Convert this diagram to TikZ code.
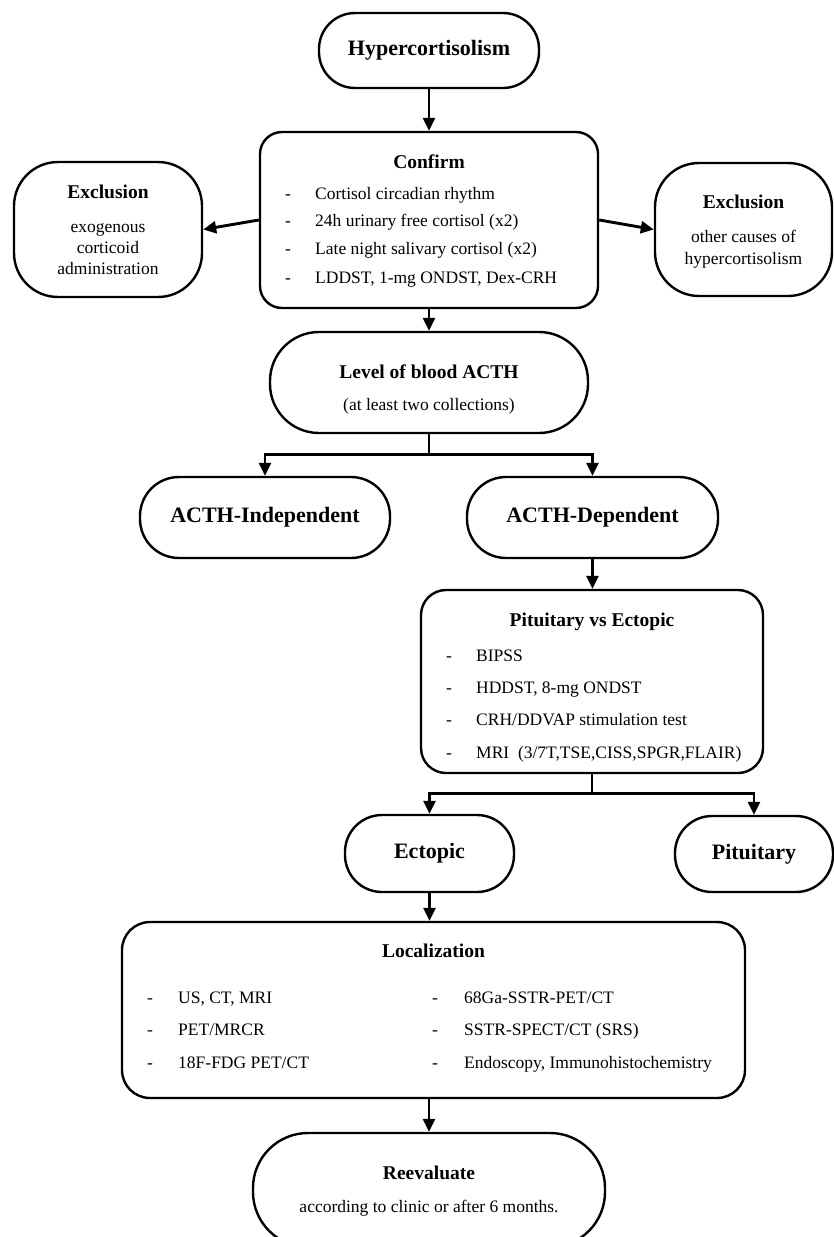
\documentclass[tikz,border=0pt]{standalone}
\usepackage{fontspec}
\setmainfont{Liberation Serif}
\usetikzlibrary{arrows.meta}
\newcommand\dsh[1]{\makebox[#1][l]{-}}
\begin{document}
\begin{tikzpicture}[x=1pt,y=-1pt,
  box/.style={draw,line width=2.4pt,rounded corners=#1,inner sep=0pt,align=center},
  box/.default=25pt,
  arr/.style={line width=2.9pt,-{Triangle[length=13pt,width=12pt]}},
  big/.style={font=\fontsize{22}{26}\selectfont\bfseries},
  ttl/.style={font=\fontsize{19.5}{23}\selectfont\bfseries,inner sep=0pt},
  txt/.style={font=\fontsize{17.5}{21}\selectfont,inner sep=0pt},
  itm/.style={font=\fontsize{17.5}{21}\selectfont,inner sep=0pt,anchor=west,execute at begin node=\strut}]
\useasboundingbox (0,0) rectangle (833,1237);
\fill[white] (0,0) rectangle (833,1237);

% boxes
\node[box=36pt,big,minimum width=220pt,minimum height=75pt] (hyp) at (429,50.5) {Hypercortisolism};
\node[box=22pt,minimum width=338pt,minimum height=176pt] (confirm) at (429,220) {};
\node[box=44pt,minimum width=188pt,minimum height=135pt] (exl) at (108,229.5) {};
\node[box=44pt,minimum width=177pt,minimum height=133pt] (exr) at (743.5,229.5) {};
\node[box=49pt,minimum width=318pt,minimum height=101pt] (level) at (429,382.5) {};
\node[box=39pt,big,minimum width=250pt,minimum height=81pt] (indep) at (265,517.5) {ACTH-Independent};
\node[box=39pt,big,minimum width=251pt,minimum height=81pt] (dep) at (592.5,517.5) {ACTH-Dependent};
\node[box=25pt,minimum width=342pt,minimum height=183pt] (pve) at (592,681.5) {};
\node[box=37pt,big,minimum width=169pt,minimum height=77pt] (ect) at (429.5,853.5) {Ectopic};
\node[box=37pt,big,minimum width=158pt,minimum height=76pt] (pit) at (754,854) {Pituitary};
\node[box=28pt,minimum width=623pt,minimum height=176pt] (loc) at (433.5,1010) {};
\node[box=55pt,minimum width=352pt,minimum height=114pt] (ree) at (429,1190) {};

% connectors
\draw[arr] (hyp.south) -- (hyp.south |- confirm.north);
\draw[arr] (confirm.west) -- (exl.east);
\draw[arr] (confirm.east) -- (exr.west);
\draw[arr] (confirm.south) -- (level.north);
\draw[arr] (level.south) -- ++(0,20) -| (indep.north);
\draw[arr] (level.south) -- ++(0,20) -| (dep.north);
\draw[arr] (dep.south) -- (dep.south |- pve.north);
\draw[arr] (pve.south) -- ++(0,19) -| (ect.north);
\draw[arr] (pve.south) -- ++(0,19) -| (pit.north);
\draw[arr] (ect.south) -- (ect.south |- loc.north);
\draw[arr] (loc.south -| ree.north) -- (ree.north);

% Confirm texts
\node[ttl] (cft) at (429,162) {Confirm};
\node[itm] (ci1) at (285,195) {\dsh{30pt}Cortisol circadian rhythm};
\node[itm] (ci2) at (285,222) {\dsh{30pt}24h urinary free cortisol (x2)};
\node[itm] (ci3) at (285,250) {\dsh{30pt}Late night salivary cortisol (x2)};
\node[itm] (ci4) at (285,279) {\dsh{30pt}LDDST, 1-mg ONDST, Dex-CRH};

% Exclusion texts
\node[ttl] (elt) at (108,192) {Exclusion};
\node[txt,align=center] (elx) at (108,249) {exogenous\\corticoid\\administration};
\node[ttl] (ert) at (743.5,202) {Exclusion};
\node[txt,align=center,font=\fontsize{17.5}{22}\selectfont] (erx) at (743.5,249) {other causes of\\hypercortisolism};

% Level texts
\node[ttl] (lvt) at (429,372) {Level of blood ACTH};
\node[txt] (lvx) at (429,406) {(at least two collections)};

% Pituitary vs Ectopic texts
\node[ttl] (pvt) at (592,622) {Pituitary vs Ectopic};
\node[itm] (pi1) at (446,657) {\dsh{30pt}BIPSS};
\node[itm] (pi2) at (446,689) {\dsh{30pt}HDDST, 8-mg ONDST};
\node[itm] (pi3) at (446,721) {\dsh{30pt}CRH/DDVAP stimulation test};
\node[itm] (pi4) at (446,754) {\dsh{30pt}MRI\ \ (3/7T,TSE,CISS,SPGR,FLAIR)};

% Localization texts
\node[ttl] (lct) at (433.5,951) {Localization};
\node[itm] (li1) at (147,999) {\dsh{31pt}US, CT, MRI};
\node[itm] (li2) at (147,1031) {\dsh{31pt}PET/MRCR};
\node[itm] (li3) at (147,1064) {\dsh{31pt}18F-FDG PET/CT};
\node[itm] (ri1) at (432,999) {\dsh{32pt}68Ga-SSTR-PET/CT};
\node[itm] (ri2) at (432,1031) {\dsh{32pt}SSTR-SPECT/CT (SRS)};
\node[itm] (ri3) at (432,1064) {\dsh{32pt}Endoscopy, Immunohistochemistry};

% Reevaluate texts
\node[ttl] (rvt) at (429,1173) {Reevaluate};
\node[txt] (rvx) at (429,1208) {according to clinic or after 6 months.};
\end{tikzpicture}
\end{document}
